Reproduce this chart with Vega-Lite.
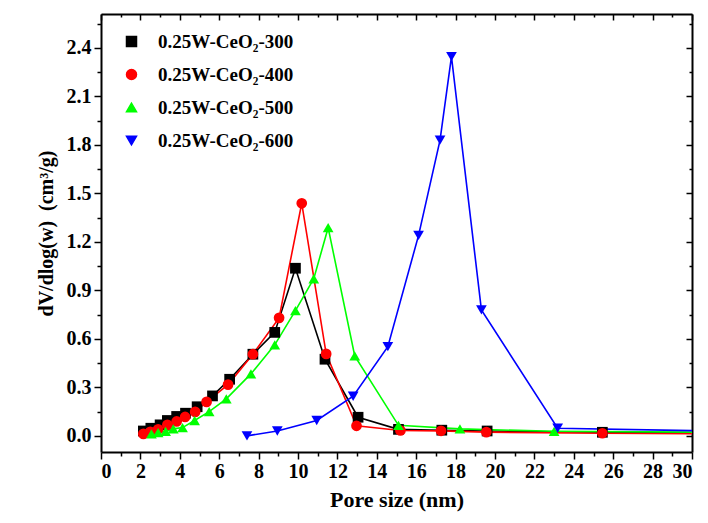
{
  "$schema": "https://vega.github.io/schema/vega-lite/v6.json",
  "width": 591,
  "height": 438,
  "autosize": {"type": "none"},
  "padding": {"left": 101, "top": 14, "right": 16, "bottom": 71},
  "background": "white",
  "config": {
    "view": {"stroke": null},
    "font": "Liberation Serif",
    "axis": {
      "grid": false,
      "domainColor": "black",
      "domainWidth": 2,
      "tickColor": "black",
      "tickWidth": 1.5,
      "labelFontWeight": "bold",
      "labelFontSize": 20,
      "labelColor": "black",
      "titleFontWeight": "bold",
      "titleColor": "black"
    },
    "legend": {
      "orient": "none",
      "legendX": 21,
      "legendY": 18,
      "padding": 0,
      "labelFont": "Liberation Serif",
      "labelFontWeight": "bold",
      "labelFontSize": 19,
      "labelColor": "black",
      "symbolSize": 100,
      "labelOffset": 17,
      "rowPadding": 13
    }
  },
  "data": {
    "values": [
      {"sample": "0.25W-CeO₂-300", "pore": 2.15, "dv": 0.03},
      {"sample": "0.25W-CeO₂-300", "pore": 2.53, "dv": 0.047},
      {"sample": "0.25W-CeO₂-300", "pore": 3.0, "dv": 0.068},
      {"sample": "0.25W-CeO₂-300", "pore": 3.37, "dv": 0.095},
      {"sample": "0.25W-CeO₂-300", "pore": 3.84, "dv": 0.12},
      {"sample": "0.25W-CeO₂-300", "pore": 4.29, "dv": 0.14},
      {"sample": "0.25W-CeO₂-300", "pore": 4.88, "dv": 0.18},
      {"sample": "0.25W-CeO₂-300", "pore": 5.66, "dv": 0.247},
      {"sample": "0.25W-CeO₂-300", "pore": 6.53, "dv": 0.35},
      {"sample": "0.25W-CeO₂-300", "pore": 7.71, "dv": 0.505},
      {"sample": "0.25W-CeO₂-300", "pore": 8.82, "dv": 0.64},
      {"sample": "0.25W-CeO₂-300", "pore": 9.87, "dv": 1.037},
      {"sample": "0.25W-CeO₂-300", "pore": 11.37, "dv": 0.474},
      {"sample": "0.25W-CeO₂-300", "pore": 13.05, "dv": 0.115},
      {"sample": "0.25W-CeO₂-300", "pore": 15.1, "dv": 0.04},
      {"sample": "0.25W-CeO₂-300", "pore": 17.3, "dv": 0.035},
      {"sample": "0.25W-CeO₂-300", "pore": 19.6, "dv": 0.03},
      {"sample": "0.25W-CeO₂-300", "pore": 25.45, "dv": 0.022},
      {"sample": "0.25W-CeO₂-300", "pore": 31, "dv": 0.018},
      {"sample": "0.25W-CeO₂-400", "pore": 2.15, "dv": 0.012},
      {"sample": "0.25W-CeO₂-400", "pore": 2.5, "dv": 0.025},
      {"sample": "0.25W-CeO₂-400", "pore": 2.9, "dv": 0.04},
      {"sample": "0.25W-CeO₂-400", "pore": 3.37, "dv": 0.068},
      {"sample": "0.25W-CeO₂-400", "pore": 3.84, "dv": 0.089},
      {"sample": "0.25W-CeO₂-400", "pore": 4.27, "dv": 0.117},
      {"sample": "0.25W-CeO₂-400", "pore": 4.78, "dv": 0.148},
      {"sample": "0.25W-CeO₂-400", "pore": 5.36, "dv": 0.21},
      {"sample": "0.25W-CeO₂-400", "pore": 6.45, "dv": 0.317},
      {"sample": "0.25W-CeO₂-400", "pore": 7.71, "dv": 0.505},
      {"sample": "0.25W-CeO₂-400", "pore": 9.04, "dv": 0.73},
      {"sample": "0.25W-CeO₂-400", "pore": 10.19, "dv": 1.439},
      {"sample": "0.25W-CeO₂-400", "pore": 11.43, "dv": 0.507},
      {"sample": "0.25W-CeO₂-400", "pore": 12.97, "dv": 0.062},
      {"sample": "0.25W-CeO₂-400", "pore": 15.2, "dv": 0.033},
      {"sample": "0.25W-CeO₂-400", "pore": 17.26, "dv": 0.031},
      {"sample": "0.25W-CeO₂-400", "pore": 19.56, "dv": 0.023},
      {"sample": "0.25W-CeO₂-400", "pore": 25.45, "dv": 0.016},
      {"sample": "0.25W-CeO₂-400", "pore": 31, "dv": 0.012},
      {"sample": "0.25W-CeO₂-500", "pore": 2.56, "dv": 0.012},
      {"sample": "0.25W-CeO₂-500", "pore": 2.9, "dv": 0.02},
      {"sample": "0.25W-CeO₂-500", "pore": 3.28, "dv": 0.027},
      {"sample": "0.25W-CeO₂-500", "pore": 3.67, "dv": 0.043},
      {"sample": "0.25W-CeO₂-500", "pore": 4.14, "dv": 0.051},
      {"sample": "0.25W-CeO₂-500", "pore": 4.75, "dv": 0.095},
      {"sample": "0.25W-CeO₂-500", "pore": 5.49, "dv": 0.15},
      {"sample": "0.25W-CeO₂-500", "pore": 6.36, "dv": 0.229},
      {"sample": "0.25W-CeO₂-500", "pore": 7.61, "dv": 0.383},
      {"sample": "0.25W-CeO₂-500", "pore": 8.82, "dv": 0.563},
      {"sample": "0.25W-CeO₂-500", "pore": 9.87, "dv": 0.775},
      {"sample": "0.25W-CeO₂-500", "pore": 10.8, "dv": 0.972},
      {"sample": "0.25W-CeO₂-500", "pore": 11.53, "dv": 1.288},
      {"sample": "0.25W-CeO₂-500", "pore": 12.88, "dv": 0.495},
      {"sample": "0.25W-CeO₂-500", "pore": 15.1, "dv": 0.065},
      {"sample": "0.25W-CeO₂-500", "pore": 18.22, "dv": 0.043},
      {"sample": "0.25W-CeO₂-500", "pore": 23.0, "dv": 0.028},
      {"sample": "0.25W-CeO₂-500", "pore": 31, "dv": 0.022},
      {"sample": "0.25W-CeO₂-600", "pore": 7.41, "dv": 0.0},
      {"sample": "0.25W-CeO₂-600", "pore": 8.95, "dv": 0.03},
      {"sample": "0.25W-CeO₂-600", "pore": 10.95, "dv": 0.095},
      {"sample": "0.25W-CeO₂-600", "pore": 12.8, "dv": 0.245},
      {"sample": "0.25W-CeO₂-600", "pore": 14.56, "dv": 0.552},
      {"sample": "0.25W-CeO₂-600", "pore": 16.12, "dv": 1.24},
      {"sample": "0.25W-CeO₂-600", "pore": 17.21, "dv": 1.83},
      {"sample": "0.25W-CeO₂-600", "pore": 17.79, "dv": 2.346},
      {"sample": "0.25W-CeO₂-600", "pore": 19.31, "dv": 0.779},
      {"sample": "0.25W-CeO₂-600", "pore": 23.18, "dv": 0.047},
      {"sample": "0.25W-CeO₂-600", "pore": 31, "dv": 0.03}
    ]
  },
  "layer": [
    {
      "mark": {"type": "line", "strokeWidth": 1.6, "clip": true},
      "encoding": {
        "x": {
          "field": "pore", "type": "quantitative",
          "scale": {"domain": [0, 30], "nice": false, "zero": false},
          "axis": {
            "orient": "bottom",
            "values": [0,1,2,3,4,5,6,7,8,9,10,11,12,13,14,15,16,17,18,19,20,21,22,23,24,25,26,27,28,29,30],
            "labelExpr": "datum.value % 2 === 0 ? datum.label : ''",
            "tickSize": {"condition": {"test": "datum.value % 2 === 0", "value": 7}, "value": 4},
            "labelPadding": 2,
            "labelFont": "Liberation Serif",
            "titleFont": "Liberation Serif",
            "format": "d",
            "title": "Pore size (nm)",
            "titleFontSize": 22,
            "titlePadding": 8
          }
        },
        "y": {
          "field": "dv", "type": "quantitative",
          "scale": {"domain": [-0.1, 2.61], "nice": false, "zero": false},
          "axis": {
            "orient": "left",
            "values": [0,0.15,0.3,0.45,0.6,0.75,0.9,1.05,1.2,1.35,1.5,1.65,1.8,1.95,2.1,2.25,2.4,2.55],
            "labelExpr": "round(datum.value/0.15) % 2 === 0 ? format(datum.value, '.1f') : ''",
            "tickSize": {"condition": {"test": "round(datum.value/0.15) % 2 === 0", "value": 7}, "value": 4},
            "labelPadding": 3,
            "labelFont": "Liberation Serif",
            "titleFont": "Liberation Serif",
            "title": "dV/dlog(w)\u00a0 (cm³/g)",
            "titleFontSize": 20,
            "titlePadding": 10
          }
        },
        "color": {
          "field": "sample", "type": "nominal",
          "scale": {"domain": ["0.25W-CeO₂-300", "0.25W-CeO₂-400", "0.25W-CeO₂-500", "0.25W-CeO₂-600"], "range": ["#000000", "#ff0000", "#00ff00", "#0000ff"]},
          "legend": {"title": null, "labelFont": "Liberation Serif"}
        },
        "order": {"field": "pore", "type": "quantitative"}
      }
    },
    {
      "mark": {"type": "point", "filled": true, "opacity": 1, "size": 115, "clip": true},
      "encoding": {
        "x": {
          "field": "pore", "type": "quantitative",
          "axis": {
            "orient": "top",
            "values": [0,1,2,3,4,5,6,7,8,9,10,11,12,13,14,15,16,17,18,19,20,21,22,23,24,25,26,27,28,29,30],
            "labels": false,
            "tickSize": {"condition": {"test": "datum.value % 2 === 0", "value": -6}, "value": -3},
            "title": null
          }
        },
        "y": {
          "field": "dv", "type": "quantitative",
          "axis": {
            "orient": "right",
            "values": [0,0.15,0.3,0.45,0.6,0.75,0.9,1.05,1.2,1.35,1.5,1.65,1.8,1.95,2.1,2.25,2.4,2.55],
            "labels": false,
            "tickSize": {"condition": {"test": "round(datum.value/0.15) % 2 === 0", "value": -6}, "value": -3},
            "title": null
          }
        },
        "color": {
          "field": "sample", "type": "nominal",
          "legend": {"title": null, "labelFont": "Liberation Serif"}
        },
        "shape": {
          "field": "sample", "type": "nominal",
          "scale": {"domain": ["0.25W-CeO₂-300", "0.25W-CeO₂-400", "0.25W-CeO₂-500", "0.25W-CeO₂-600"], "range": ["square", "circle", "triangle-up", "triangle-down"]},
          "legend": {"title": null, "labelFont": "Liberation Serif"}
        }
      }
    }
  ],
  "resolve": {"axis": {"x": "independent", "y": "independent"}}
}
